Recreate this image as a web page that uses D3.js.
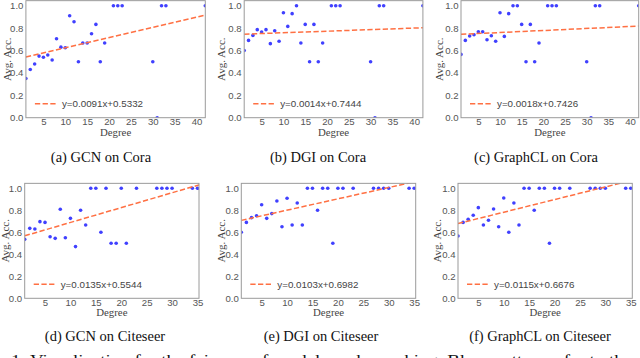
<!DOCTYPE html>
<html>
<head>
<meta charset="utf-8">
<script src="https://cdn.jsdelivr.net/npm/d3@7"></script>
<style>
  body { margin: 0; background: #fff; }
  svg { display: block; }
</style>
</head>
<body>
<div id="chart"></div>
<script>
// degree values (x) for the Cora and Citeseer rows
var degCora = [1, 2, 3, 4, 5, 6, 7, 8, 9, 10, 11, 12, 13, 14, 15, 16, 17, 18, 19, 21, 22, 23, 30, 31, 32, 33, 42];
var degCite = [1, 2, 3, 4, 5, 6, 7, 8, 9, 10, 11, 12, 13, 14, 15, 16, 17, 18, 19, 20, 21, 23, 27, 28, 29, 30, 34, 35];

// average accuracy per degree
var accGcnCora = [0.35, 0.43, 0.48, 0.55, 0.54, 0.56, 0.515, 0.705, 0.63, 0.625, 0.91, 0.857, 0.5, 0.667, 0.667, 0.75, 0.833, 0.5, 0.667, 1, 1, 1, 0.5, 0, 1, 1, 1];
var accDgiCora = [0.6, 0.69, 0.735, 0.786, 0.765, 0.786, 0.661, 0.777, 0.682, 0.9375, 0.815, 0.929, 1, 0.667, 0.833, 0.5, 0.833, 0.5, 0.667, 1, 1, 1, 0.5, 0, 1, 1, 1];
var accClCora = [0.565, 0.69, 0.729, 0.741, 0.768, 0.768, 0.696, 0.732, 0.682, 0.9375, 0.726, 0.929, 1, 1, 0.833, 0.5, 0.833, 0.5, 0.667, 1, 1, 1, 0.5, 0, 1, 1, 1];
var accGcnCite = [0.536, 0.636, 0.63, 0.697, 0.69, 0.56, 0.545, 0.81, 0.55, 0.727, 0.47, 0.8, 0.667, 1, 1, 0.6, 1, 0.5, 0.5, 1, 0.5, 1, 1, 1, 1, 1, 1, 1];
var accDgiCite = [0.6, 0.69, 0.733, 0.75, 0.85, 0.727, 0.77, 0.885, 0.65, 0.91, 0.667, 0.867, 0.667, 1, 1, 0.8, 1, 1, 0.5, 1, 1, 1, 1, 1, 1, 1, 1, 1];
var accClCite = [0.567, 0.69, 0.718, 0.755, 0.824, 0.667, 0.709, 0.812, 0.65, 0.912, 0.6, 0.867, 0.667, 1, 1, 0.8, 1, 1, 0.5, 1, 1, 1, 1, 1, 1, 1, 1, 1];

// fitted lines (slope, intercept) from the legends
var slopes = [0.0091, 0.0014, 0.0018, 0.0135, 0.0103, 0.0115];
var intercepts = [0.5332, 0.7444, 0.7426, 0.5544, 0.6982, 0.6676];

var captions = ["(a) GCN on Cora", "(b) DGI on Cora", "(c) GraphCL on Cora",
                "(d) GCN on Citeseer", "(e) DGI on Citeseer", "(f) GraphCL on Citeseer"];
var xTicksCora = [5, 10, 15, 20, 25, 30, 35, 40];
var xTicksCite = [5, 10, 15, 20, 25, 30, 35];
var yTicks = [0, 0.2, 0.4, 0.6, 0.8, 1.0];

var width = 640, height = 358;
var dotColor = "#1f1fff";
var lineColor = "#ff7043";

var svg = d3.select("#chart")
    .append("svg")
    .attr("width", width)
    .attr("height", height);

// placement of every panel in the page
var panels = [
    {deg: degCora, acc: accGcnCora, xMax: 42, xt: xTicksCora, l: 25.9, r: 205.3, t: 0.66, b: 117.7, yl: 10.7, cx: 101, cy: 161.5},
    {deg: degCora, acc: accDgiCora, xMax: 42, xt: xTicksCora, l: 244.2, r: 422.9, t: 0.66, b: 117.7, yl: 224.7, cx: 318, cy: 161.5},
    {deg: degCora, acc: accClCora, xMax: 42, xt: xTicksCora, l: 461, r: 638.7, t: 0.66, b: 117.7, yl: 443, cx: 536, cy: 161.5},
    {deg: degCite, acc: accGcnCite, xMax: 35.3, xt: xTicksCite, l: 24.7, r: 199, t: 183.35, b: 298.3, yl: 9, cx: 105, cy: 341},
    {deg: degCite, acc: accDgiCite, xMax: 35.3, xt: xTicksCite, l: 241.3, r: 415.7, t: 183.35, b: 298.3, yl: 224.7, cx: 321, cy: 341},
    {deg: degCite, acc: accClCite, xMax: 35.3, xt: xTicksCite, l: 458, r: 632.3, t: 183.35, b: 298.3, yl: 441, cx: 540, cy: 341}
];

panels.forEach(function(p, i) {
    var x = d3.scaleLinear().domain([1, p.xMax]).range([p.l, p.r]);
    var y = d3.scaleLinear().domain([0, 1.045]).range([p.b, p.t]);
    var pts = p.deg.map(function(d, j) { return {x: d, y: p.acc[j]}; });

    svg.append("clipPath")
        .attr("id", "clip" + i)
        .append("rect")
        .attr("x", p.l)
        .attr("y", p.t)
        .attr("width", p.r - p.l)
        .attr("height", p.b - p.t);

    // axes
    var gx = svg.append("g")
        .attr("transform", "translate(0," + p.b + ")")
        .call(d3.axisBottom(x).tickValues(p.xt).tickSize(0).tickPadding(0.8));
    var gy = svg.append("g")
        .attr("transform", "translate(" + p.l + ",0)")
        .call(d3.axisLeft(y).tickValues(yTicks).tickFormat(d3.format(".1f")).tickSize(0).tickPadding(2.5));
    [gx, gy].forEach(function(g) {
        g.select(".domain").remove();
        g.selectAll("text")
            .attr("fill", "#555")
            .attr("font-family", "Liberation Sans, Arial, sans-serif")
            .attr("font-size", "9.6px");
    });

    var plot = svg.append("g").attr("clip-path", "url(#clip" + i + ")");

    plot.selectAll("circle")
        .data(pts)
        .enter()
        .append("circle")
        .attr("cx", function(d) { return x(d.x); })
        .attr("cy", function(d) { return y(d.y); })
        .attr("r", 1.8)
        .attr("fill", dotColor)
        .attr("fill-opacity", 0.85);

    var fit = x.domain().map(function(d) { return {x: d, y: slopes[i] * d + intercepts[i]}; });
    plot.append("path")
        .datum(fit)
        .attr("d", d3.line().x(function(d) { return x(d.x); }).y(function(d) { return y(d.y); }))
        .attr("fill", "none")
        .attr("stroke", lineColor)
        .attr("stroke-width", 1.5)
        .attr("stroke-dasharray", "5.3,2.4");

    // frame
    svg.append("rect")
        .attr("x", p.l)
        .attr("y", p.t)
        .attr("width", p.r - p.l)
        .attr("height", p.b - p.t)
        .attr("fill", "none")
        .attr("stroke", "#9a9a9a")
        .attr("stroke-width", 1);

    // legend
    var ly = p.b - 14;
    svg.append("line")
        .attr("x1", p.l + 9).attr("x2", p.l + 30)
        .attr("y1", ly).attr("y2", ly)
        .attr("stroke", lineColor)
        .attr("stroke-width", 1.5)
        .attr("stroke-dasharray", "5.3,2.4");
    svg.append("text")
        .attr("x", p.l + 36)
        .attr("y", ly + 3.4)
        .attr("fill", "#444")
        .attr("font-family", "Liberation Sans, Arial, sans-serif")
        .attr("font-size", "9.8px")
        .text("y=" + slopes[i].toFixed(4) + "x+" + intercepts[i].toFixed(4));

    // axis titles
    svg.append("text")
        .attr("x", (p.l + p.r) / 2)
        .attr("y", p.b + 17.8)
        .attr("text-anchor", "middle")
        .attr("fill", "#444")
        .attr("font-family", "Liberation Serif, Times New Roman, serif")
        .attr("font-size", "10.8px")
        .text("Degree");
    svg.append("text")
        .attr("transform", "translate(" + p.yl + "," + ((p.t + p.b) / 2) + ") rotate(-90)")
        .attr("text-anchor", "middle")
        .attr("fill", "#444")
        .attr("font-family", "Liberation Serif, Times New Roman, serif")
        .attr("font-size", "11px")
        .text("Avg. Acc.");

    // caption
    svg.append("text")
        .attr("x", p.cx)
        .attr("y", p.cy)
        .attr("text-anchor", "middle")
        .attr("fill", "#111")
        .attr("font-family", "Liberation Serif, Times New Roman, serif")
        .attr("font-size", "14.5px")
        .text(captions[i]);
});

// figure caption, mostly cut off by the page edge
svg.append("text")
    .attr("x", 7)
    .attr("y", 364.5)
    .attr("text-anchor", "end")
    .attr("fill", "#111")
    .attr("font-family", "Liberation Serif, Times New Roman, serif")
    .attr("font-size", "14.5px")
    .text("Figure");
svg.append("text")
    .attr("x", 11)
    .attr("y", 364.5)
    .attr("fill", "#111")
    .attr("font-family", "Liberation Serif, Times New Roman, serif")
    .attr("font-size", "14.5px")
    .attr("textLength", 621)
    .attr("lengthAdjust", "spacingAndGlyphs")
    .text("1: Visualization for the fairness of models under ranking. Blue scatters refer to the");
</script>
</body>
</html>
